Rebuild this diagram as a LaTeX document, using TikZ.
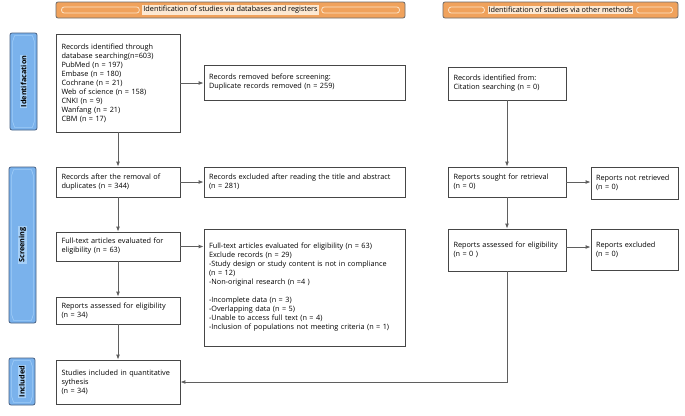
\documentclass[tikz,border=0pt]{standalone}
\usepackage{fontspec}
\setmainfont{Open Sans}
\usetikzlibrary{arrows.meta,calc}
\definecolor{boxline}{RGB}{70,70,70}
\definecolor{arrowc}{RGB}{95,95,95}
\definecolor{orangebar}{RGB}{240,162,92}
\definecolor{orangelt}{RGB}{252,232,210}
\definecolor{orangedeco}{RGB}{252,228,200}
\definecolor{bluebar}{RGB}{122,178,236}
\definecolor{bluelt}{RGB}{165,207,247}
\definecolor{blueline}{RGB}{70,95,130}
\definecolor{bluedeco}{RGB}{160,205,248}
\tikzset{
  stepbox/.style={draw=boxline, line width=0.8pt, rectangle, align=left, inner sep=0pt,
    font=\fontsize{7.3}{9}\selectfont},
  arr/.style={draw=arrowc, line width=0.9pt, -{Latex[length=5pt,width=4pt]}},
  sidebar/.style={draw=blueline, fill=bluebar, line width=0.8pt, rounded corners=2pt, inner sep=0pt},
  sidelabel/.style={rotate=90, fill=bluelt, inner sep=1pt, font=\fontsize{7.3}{8}\selectfont\bfseries},
  decoline/.style={draw=bluedeco, line width=0.6pt},
  topbar/.style={draw=boxline!80, fill=orangebar, line width=0.8pt, rounded corners=2pt, inner sep=0pt},
  toplabel/.style={fill=orangelt, inner sep=1pt, font=\fontsize{7.3}{8}\selectfont},
  orangedecoline/.style={draw=orangedeco, line width=0.8pt, rounded corners=2.5pt}
}
\newcommand\sidedeco[1]{\draw[decoline] ($(#1.north west)+(5,3)$) -- ($(#1.north east)+(-5,3)$) -- ($(#1.north east)+(-3,9)$) -- ($(#1.south east)+(-3,-9)$) -- ($(#1.south east)+(-5,-3)$) -- ($(#1.south west)+(5,-3)$) -- ($(#1.south west)+(3,-9)$) -- ($(#1.north west)+(3,9)$) -- cycle;}
\newcommand\bardeco[2]{%
  \draw[orangedecoline] ($(#1.west)+(6,-3)$) rectangle ($(#2.west |- #1.center)+(-3,3)$);
  \draw[orangedecoline] ($(#2.east |- #1.center)+(3,-3)$) rectangle ($(#1.east)+(-6,3)$);}
\begin{document}
\begin{tikzpicture}[x=1pt,y=-1pt]
\useasboundingbox (0,0) rectangle (685,415);
\fill[white] (0,0) rectangle (685,415);

% top bars
\node[topbar, minimum width=349pt, minimum height=16pt] (bar1) at (230.5,10) {};
\node[toplabel] (bar1t) at (230.5,10) {Identification of studies via databases and registers};
\bardeco{bar1}{bar1t}
\node[topbar, minimum width=235pt, minimum height=16pt] (bar2) at (560.5,10) {};
\node[toplabel] (bar2t) at (560.5,10) {Identification of studies via other methods};
\bardeco{bar2}{bar2t}

% side bars
\node[sidebar, minimum width=27pt, minimum height=97pt] (s1) at (23.5,81.5) {};
\sidedeco{s1}
\node[sidelabel] at (s1) {Identifacation};
\node[sidebar, minimum width=27pt, minimum height=156pt] (s2) at (22.5,245) {};
\sidedeco{s2}
\node[sidelabel] at (s2) {Screening};
\node[sidebar, minimum width=26pt, minimum height=47pt] (s3) at (22,381.5) {};
\sidedeco{s3}
\node[sidelabel] at (s3) {Included};

% left column
\node[stepbox, minimum width=124pt, text width=113pt, minimum height=98pt] (A) at (118,83)
 {Records identified through\\database searching(n=603)\\PubMed (n = 197)\\Embase (n = 180)\\Cochrane (n = 21)\\Web of science (n = 158)\\CNKI (n = 9)\\Wanfang (n = 21)\\CBM (n = 17)};
\node[stepbox, minimum width=201pt, text width=191pt, minimum height=35pt] (B) at (304.5,82.5)
 {Records removed before screening:\\Duplicate records removed (n = 259)};
\node[stepbox, minimum width=124pt, text width=113pt, minimum height=30pt] (C) at (118,182)
 {Records after the removal of\\duplicates (n = 344)};
\node[stepbox, minimum width=201pt, text width=191pt, minimum height=30pt] (D) at (304.5,182)
 {Records excluded after reading the title and abstract\\(n = 281)};
\node[stepbox, minimum width=124pt, text width=113pt, minimum height=29pt] (E) at (118,246.5)
 {Full-text articles evaluated for\\eligibility (n = 63)};
\node[stepbox, minimum width=201pt, text width=191pt, minimum height=117pt] (F) at (304.5,287.5)
 {Full-text articles evaluated for eligibility (n = 63)\\Exclude records (n = 29)\\-Study design or study content is not in compliance\\(n = 12)\\-Non-original research (n =4 )\\[9pt]-Incomplete data (n = 3)\\-Overlapping data (n = 5)\\-Unable to access full text (n = 4)\\-Inclusion of populations not meeting criteria (n = 1)};
\node[stepbox, minimum width=124pt, text width=113pt, minimum height=27pt] (G) at (118,310.5)
 {Reports assessed for eligibility\\(n = 34)};
\node[stepbox, minimum width=124pt, text width=113pt, minimum height=44pt] (H) at (118,382)
 {Studies included in quantitative\\sythesis\\(n = 34)};

% right column
\node[stepbox, minimum width=118pt, text width=107pt, minimum height=33pt] (I) at (507,83.5)
 {Records identified from:\\Citation searching (n = 0)};
\node[stepbox, minimum width=118pt, text width=107pt, minimum height=30pt] (J) at (507,182)
 {Reports sought for retrieval\\(n = 0)};
\node[stepbox, minimum width=87pt, text width=77pt, minimum height=32pt] (K) at (634.5,183)
 {Reports not retrieved\\(n = 0)};
\node[stepbox, minimum width=118pt, text width=107pt, minimum height=42pt] (L) at (507,250)
 {Reports assessed for eligibility\\(n = 0 )};
\node[stepbox, minimum width=87pt, text width=77pt, minimum height=41pt] (M) at (634.5,249.5)
 {Reports excluded\\(n = 0)};

% connectors
\draw[arr] (A) -- (C);
\draw[arr] (A.east) -- (A.east -| B.west);
\draw[arr] (C) -- (E);
\draw[arr] (C.east) -- (C.east -| D.west);
\draw[arr] (E) -- (G);
\draw[arr] (E.east) -- (E.east -| F.west);
\draw[arr] (G) -- (H);
\draw[arr] (I) -- (J);
\draw[arr] (J.east) -- (J.east -| K.west);
\draw[arr] (J) -- (L);
\draw[arr] ($(L.east)+(0,-3)$) -- ($(L.east -| M.west)+(0,-3)$);
\draw[arr] (L.south) |- (H.east);
\end{tikzpicture}
\end{document}
